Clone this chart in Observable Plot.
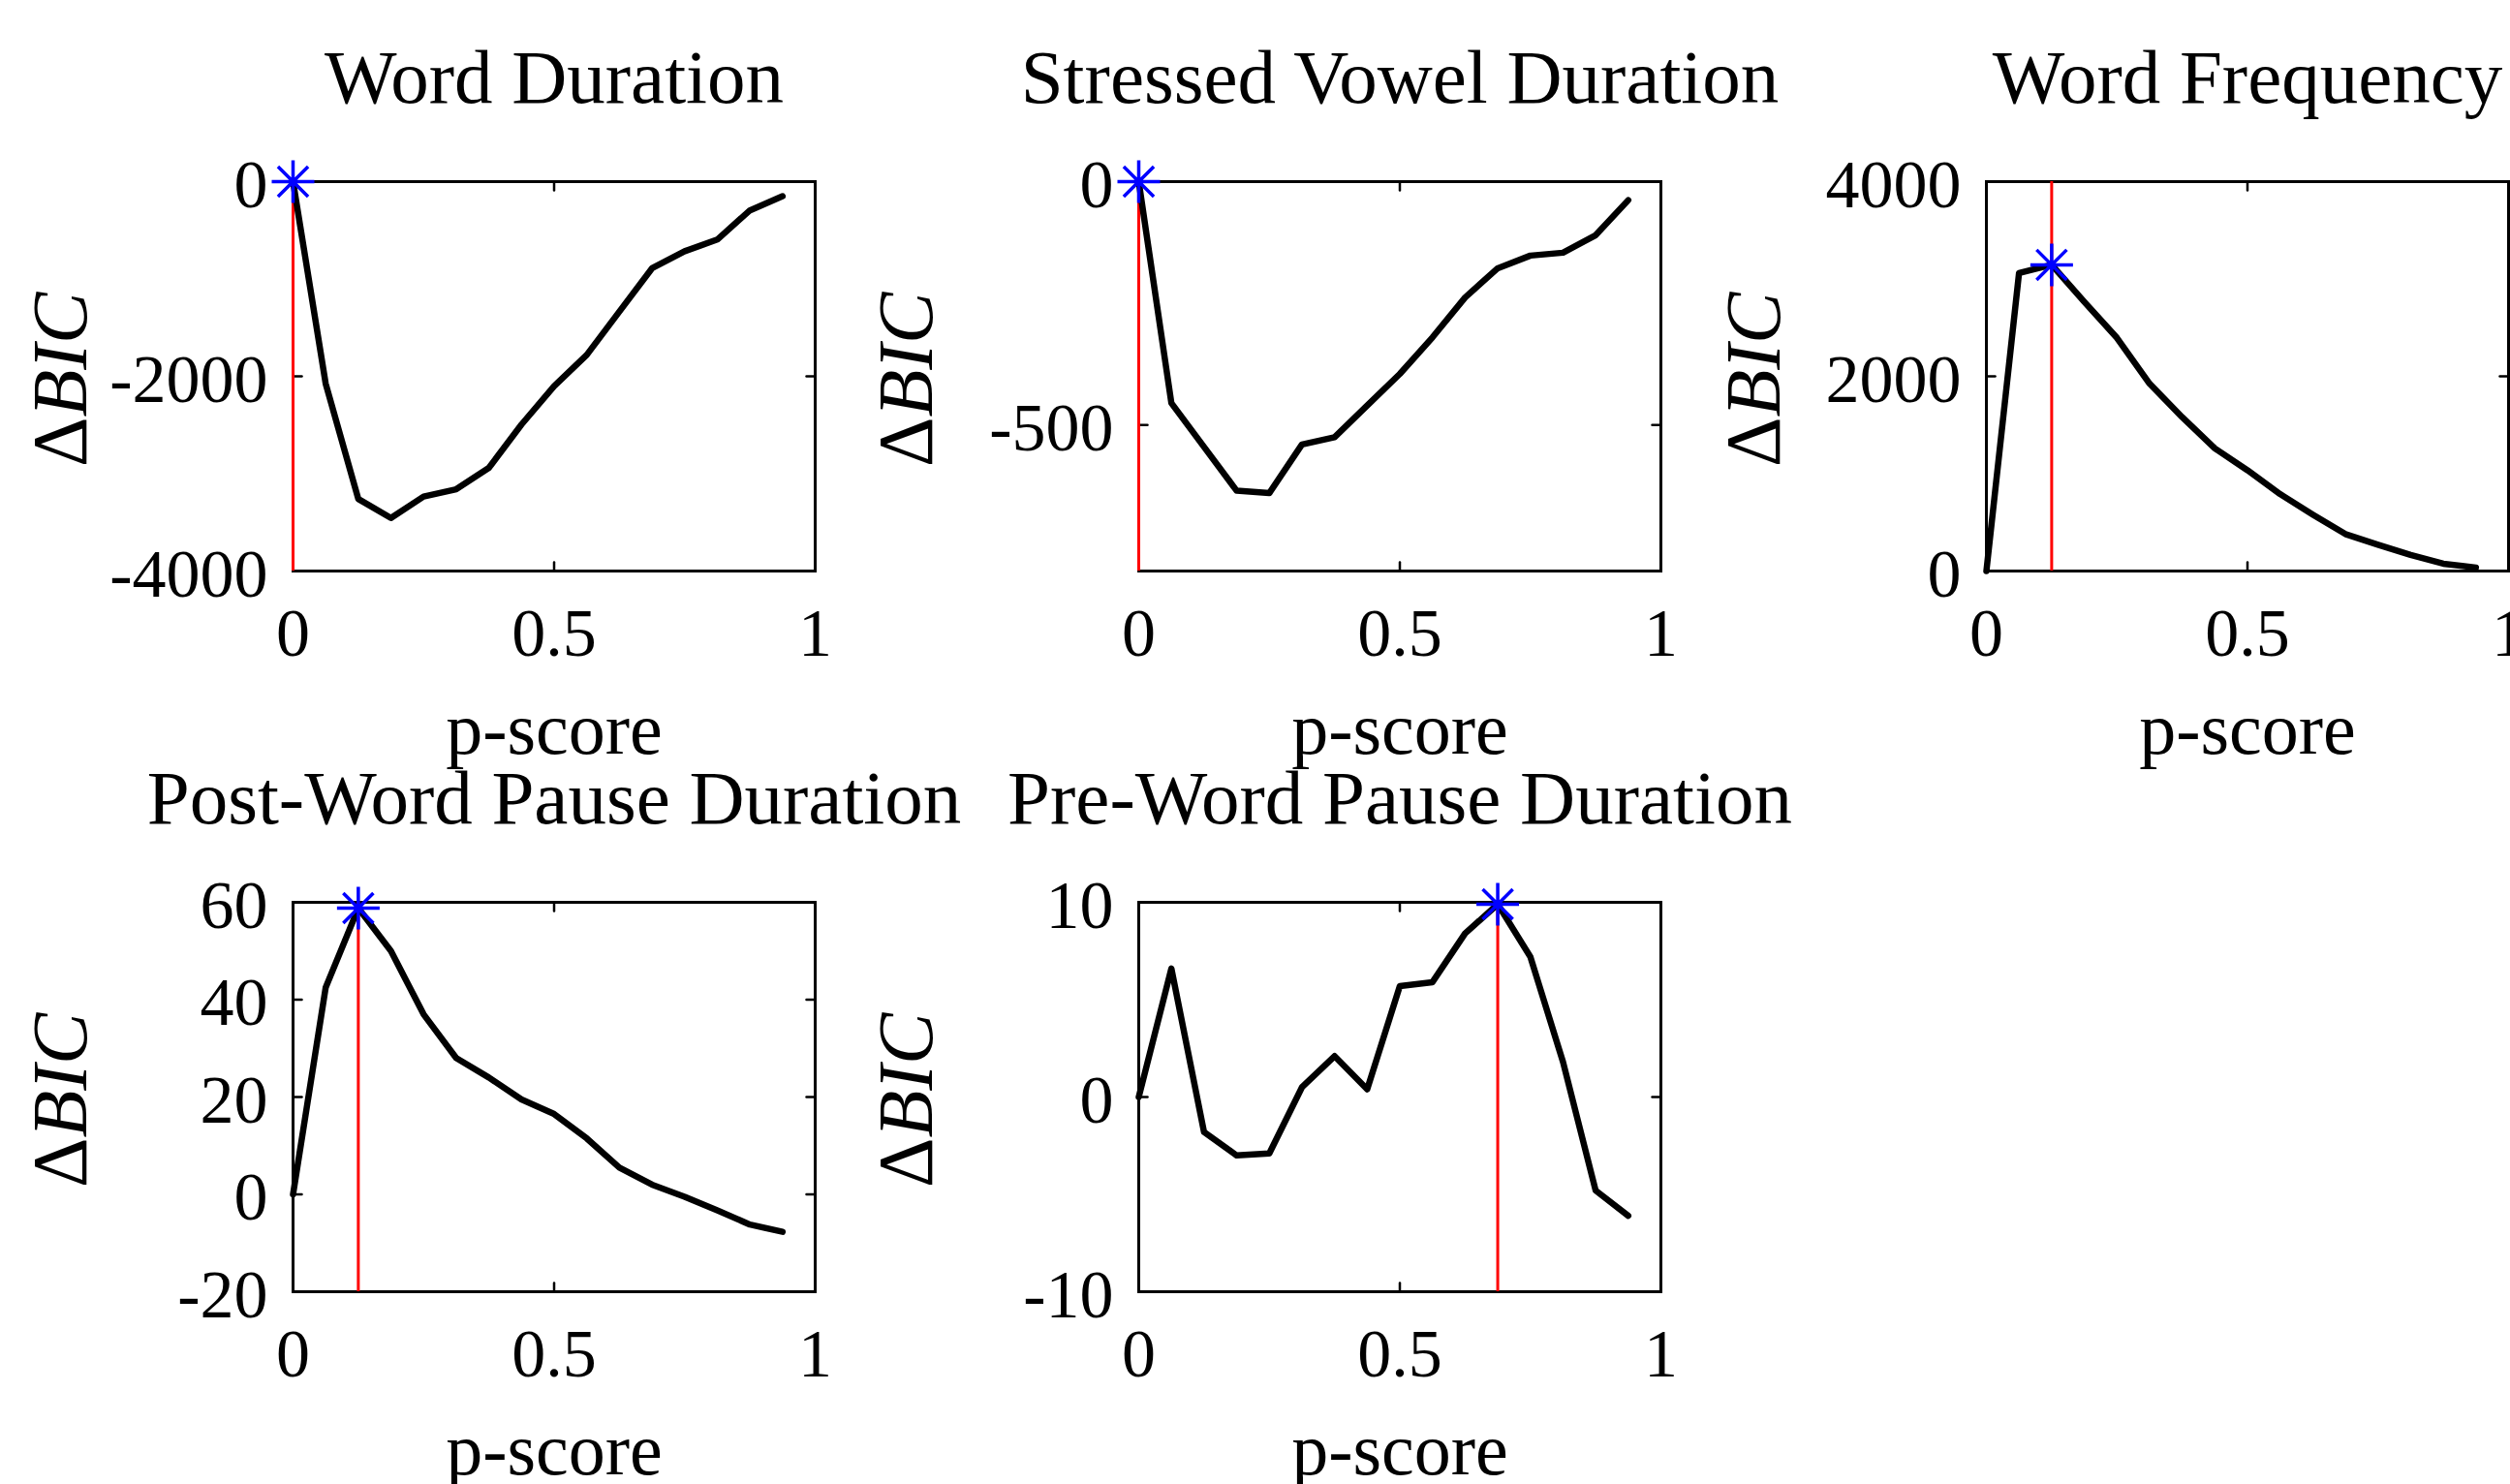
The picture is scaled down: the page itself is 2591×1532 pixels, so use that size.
<!DOCTYPE html>
<html>
<head>
<meta charset="utf-8">
<script src="https://cdn.jsdelivr.net/npm/d3@7"></script>
<script src="https://cdn.jsdelivr.net/npm/@observablehq/plot@0.6"></script>
<style>
  html, body { margin: 0; padding: 0; background: #fff; overflow: hidden; }
  #chart { position: relative; width: 2591px; height: 1532px; background: #fff; overflow: hidden; }
  #chart svg { position: absolute; }
</style>
</head>
<body>
<div id="chart"></div>
<script>
// ---- data ----
const pScore = [0, 0.0625, 0.125, 0.1875, 0.25, 0.3125, 0.375, 0.4375, 0.5, 0.5625, 0.625, 0.6875, 0.75, 0.8125, 0.875, 0.9375];

const wordDuration = [0, -2075, -3260, -3455, -3235, -3160, -2940, -2495, -2100, -1780, -1335, -890, -715, -595, -295, -150];
const stressedVowelDuration = [0, -455, -545, -635, -640, -540, -525, -460, -395, -320, -238, -178, -152, -146, -110, -38];
const wordFrequency = [0, 3060, 3145, 2765, 2395, 1925, 1580, 1260, 1035, 790, 580, 380, 270, 165, 75, 35];
const postWordPauseDuration = [0, 42.5, 58.8, 50, 37, 28, 24, 19.5, 16.5, 11.5, 5.5, 2, -0.5, -3.3, -6.2, -7.7];
const preWordPauseDuration = [0, 6.6, -1.8, -3, -2.9, 0.5, 2.1, 0.4, 5.7, 5.9, 8.4, 9.9, 7.2, 1.8, -4.8, -6.1];

const titles = ["Word Duration", "Stressed Vowel Duration", "Word Frequency", "Post-Word Pause Duration", "Pre-Word Pause Duration"];
const seriesList = [wordDuration, stressedVowelDuration, wordFrequency, postWordPauseDuration, preWordPauseDuration];
const yDomains = [[-4000, 0], [-800, 0], [0, 4000], [-20, 60], [-10, 10]];
const yTickValues = [[-4000, -2000, 0], [-500, 0], [0, 2000, 4000], [-20, 0, 20, 40, 60], [-10, 0, 10]];
const xTickValues = [0, 0.5, 1];
const xLabel = "p-score";
const yLabelDelta = "Δ";
const yLabelVar = "BIC";

// ---- layout ----
const colLeft = [302, 1175, 2050];
const rowTop = [187, 931];
const gridPos = [[0, 0], [1, 0], [2, 0], [0, 1], [1, 1]];
const FW = 539, FH = 402;
const M = {left: 300, top: 130, right: 40, bottom: 208};

const asterisk8 = {
  draw(ctx, size) {
    const r = Math.sqrt(size / Math.PI);
    const d = r * Math.SQRT1_2;
    ctx.moveTo(-r, 0); ctx.lineTo(r, 0);
    ctx.moveTo(0, -r); ctx.lineTo(0, r);
    ctx.moveTo(-d, -d); ctx.lineTo(d, d);
    ctx.moveTo(-d, d); ctx.lineTo(d, -d);
  }
};
const tickShape = {
  draw(ctx, l) { ctx.moveTo(0, 0); ctx.lineTo(0, -l); }
};

const chart = document.getElementById("chart");
const fontFamily = "'Liberation Serif', 'DejaVu Serif', serif";

seriesList.forEach((series, i) => {
  const data = pScore.map((p, k) => ({p, v: series[k]}));
  const peak = data[d3.greatestIndex(data, d => d.v)];
  const [c, r] = gridPos[i];
  const tickOpts = {length: 9, anchor: "start", shape: tickShape, stroke: "black", strokeWidth: 2.5};

  const svg = Plot.plot({
    width: M.left + FW + M.right,
    height: M.top + FH + M.bottom,
    marginLeft: M.left, marginRight: M.right, marginTop: M.top, marginBottom: M.bottom,
    style: {fontFamily, fontSize: "70px", color: "black", background: "transparent", overflow: "visible"},
    x: {domain: [0, 1]},
    y: {domain: yDomains[i]},
    marks: [
      Plot.axisX({ticks: xTickValues, tickSize: 0, tickPadding: 38, tickFormat: d => String(d), label: null}),
      Plot.axisY({ticks: yTickValues[i], tickSize: 0, tickPadding: 26, tickFormat: d => String(d), label: null, dy: 4}),
      Plot.frame({stroke: "black", strokeWidth: 3}),
      Plot.vector(xTickValues, {x: d => d, frameAnchor: "bottom", rotate: 0, ...tickOpts}),
      Plot.vector(xTickValues, {x: d => d, frameAnchor: "top", rotate: 180, ...tickOpts}),
      Plot.vector(yTickValues[i], {y: d => d, frameAnchor: "left", rotate: 90, ...tickOpts}),
      Plot.vector(yTickValues[i], {y: d => d, frameAnchor: "right", rotate: -90, ...tickOpts}),
      Plot.ruleX([peak], {x: "p", stroke: "#ff0000", strokeWidth: 3}),
      Plot.line(data, {x: "p", y: "v", stroke: "black", strokeWidth: 6.5}),
      Plot.dot([peak], {x: "p", y: "v", symbol: asterisk8, r: 22, stroke: "#0000ff", fill: "none", strokeWidth: 3.5}),
      Plot.text([titles[i]], {frameAnchor: "top", dy: -82, lineAnchor: "bottom", fontSize: 79}),
      Plot.text([xLabel], {frameAnchor: "bottom", dy: 188, lineAnchor: "bottom", fontSize: 76}),
      Plot.text([yLabelDelta], {frameAnchor: "left", dx: -239, dy: 42, rotate: -90, textAnchor: "end", fontSize: 80}),
      Plot.text([yLabelVar], {frameAnchor: "left", dx: -239, dy: 42, rotate: -90, textAnchor: "start", fontSize: 80, fontStyle: "italic"})
    ]
  });
  svg.style.left = (colLeft[c] - M.left) + "px";
  svg.style.top = (rowTop[r] - M.top) + "px";
  chart.appendChild(svg);
});
</script>
</body>
</html>
